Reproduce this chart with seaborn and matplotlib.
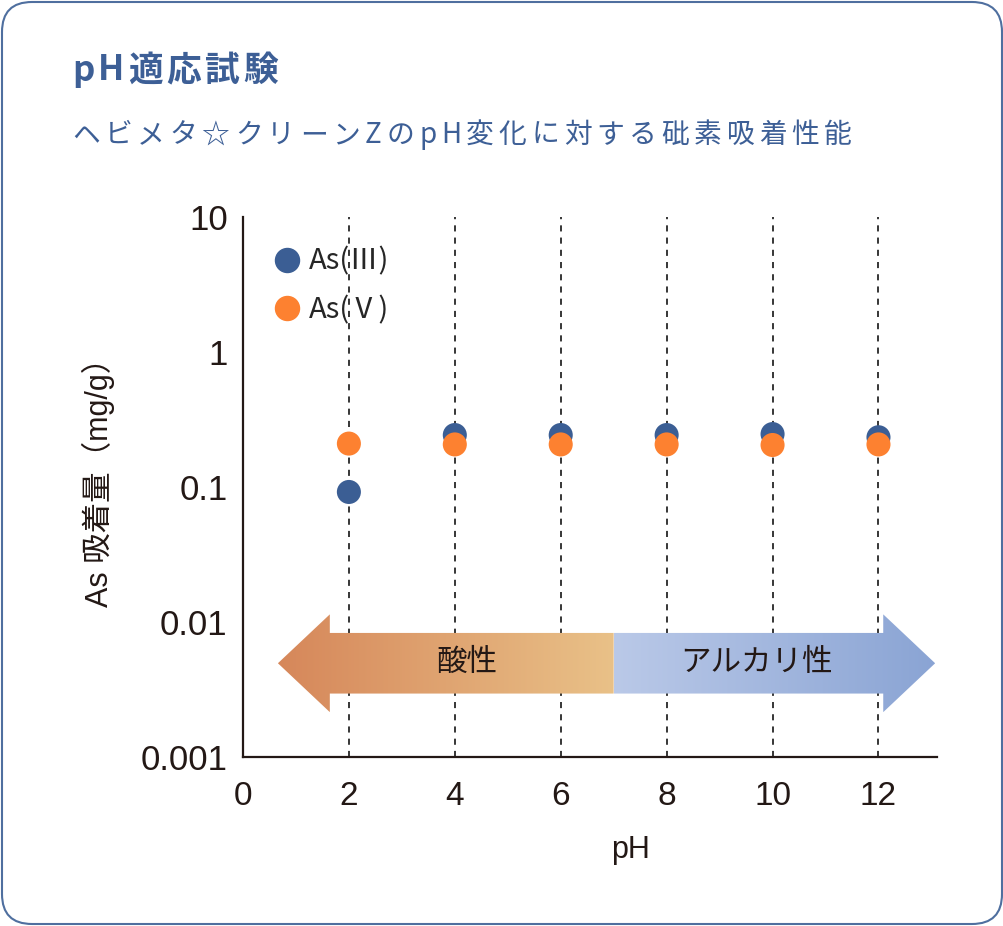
import numpy as np
import pandas as pd
import seaborn as sns
import matplotlib.pyplot as plt
from matplotlib.patches import FancyBboxPatch, Polygon
from matplotlib.lines import Line2D
from matplotlib.colors import LinearSegmentedColormap
from matplotlib.transforms import IdentityTransform
from matplotlib.font_manager import findfont, FontProperties
from matplotlib.ft2font import FT2Font

# data
ph = [2, 4, 6, 8, 10, 12]
as3 = [0.092, 0.243, 0.243, 0.243, 0.247, 0.234]
as5 = [0.210, 0.207, 0.207, 0.207, 0.205, 0.207]
series = ['As(Ⅲ)', 'As(Ⅴ)']
xticks = [0, 2, 4, 6, 8, 10, 12]
yticks = [0.001, 0.01, 0.1, 1, 10]
yticklabels = ['0.001', '0.01', '0.1', '1', '10']
arrow_labels = ['酸性', 'アルカリ性']
title = 'pH適応試験'
subtitle = 'ヘビメタ☆クリーンZのpH変化に対する砒素吸着性能'

blue = '#3b5e94'
orange = '#fd8130'
title_blue = '#3d5f96'
ink = '#231815'
W, H = 1004, 926

sns.set_style('white')
plt.rcParams['font.family'] = ['Liberation Sans', 'Noto Sans CJK JP', 'DejaVu Sans']

df = pd.DataFrame({
    'pH': ph + ph,
    'As': as3 + as5,
    'kind': [series[0]] * len(ph) + [series[1]] * len(ph),
})

fig = plt.figure(figsize=(W / 100, H / 100), dpi=100)
ax = fig.add_axes([0.242, 0.1825, 0.691, 0.583])

for x in ph:
    ax.axvline(x, color='black', lw=1.1, ls=(0, (4, 4)), zorder=1)

sns.scatterplot(data=df, x='pH', y='As', hue='kind', palette=[blue, orange],
                s=300, linewidth=0, legend=False, ax=ax, zorder=3)

ax.set_yscale('log')
ax.set_xlim(0, 13.1)
ax.set_ylim(0.001, 10)
ax.set_xticks(xticks)
ax.set_yticks(yticks)
ax.set_yticklabels(yticklabels)
ax.minorticks_off()
ax.tick_params(axis='x', length=0, pad=17, labelsize=24, colors=ink)
ax.tick_params(axis='y', length=0, pad=11, labelsize=25, colors=ink)
for side in ['top', 'right']:
    ax.spines[side].set_visible(False)
for side in ['left', 'bottom']:
    ax.spines[side].set_color(ink)
    ax.spines[side].set_linewidth(1.6)

ax.set_xlabel('pH', fontsize=22, color=ink)
ax.set_ylabel('As 吸着量（mg/g）', fontsize=22, color=ink)
ax.xaxis.set_label_coords(0.558, -0.144)
ax.yaxis.set_label_coords(-0.185, 0.523)

handles = [Line2D([], [], marker='o', ls='', color=c, markersize=17.3) for c in [blue, orange]]
ax.legend(handles, series, loc='upper left', bbox_to_anchor=(0.043, 0.945),
          frameon=False, handlelength=1.0, handletextpad=0.25,
          borderpad=0, borderaxespad=0, labelspacing=0.62,
          prop=FontProperties(family='Noto Sans CJK JP', size=21))

# acid / alkaline arrow
x0, xm, x1 = 0.66, 7.0, 13.07
head = 0.98
arr = ax.inset_axes([x0, 0.00215, x1 - x0, 0.0114 - 0.00215], transform=ax.transData, zorder=2)
arr.set_xlim(x0, x1)
arr.set_ylim(0, 1)
arr.axis('off')
lo, hi = 0.19, 0.81
left_poly = Polygon([(x0, 0.5), (x0 + head, 1), (x0 + head, hi), (xm, hi), (xm, lo),
                     (x0 + head, lo), (x0 + head, 0)], closed=True, transform=arr.transData)
right_poly = Polygon([(xm, hi), (x1 - head, hi), (x1 - head, 1), (x1, 0.5), (x1 - head, 0),
                      (x1 - head, lo), (xm, lo)], closed=True, transform=arr.transData)
grad = np.linspace(0, 1, 256).reshape(1, -1)
cmap_l = LinearSegmentedColormap.from_list('acid', ['#d6875a', '#e9c188'])
cmap_r = LinearSegmentedColormap.from_list('alk', ['#bac9e8', '#8aa4d4'])
im_l = arr.imshow(grad, cmap=cmap_l, extent=[x0, xm, 0, 1], aspect='auto')
im_l.set_clip_path(left_poly)
im_r = arr.imshow(grad, cmap=cmap_r, extent=[xm, x1, 0, 1], aspect='auto')
im_r.set_clip_path(right_poly)
arr.text(4.23, 0.5, arrow_labels[0], fontsize=22, ha='center', va='center', color=ink)
arr.text(9.7, 0.5, arrow_labels[1], fontsize=22, ha='center', va='center', color=ink)


def spaced_text(s, x_left, x_right, y, size, weight='normal'):
    # place characters one by one so the line spans x_left..x_right (letter-spaced)
    fp = FontProperties(family='Noto Sans CJK JP', weight=weight)
    font = FT2Font(findfont(fp), hinting_factor=1)
    font.set_size(size, 100)
    adv = [font.load_char(ord(c)).linearHoriAdvance / 65536 for c in s]
    track = (x_right - x_left - sum(adv)) / (len(s) - 1)
    x = x_left
    for c, a in zip(s, adv):
        fig.text(x / W, 1 - y / H, c, fontsize=size, fontweight=weight, color=title_blue,
                 va='center', ha='left', family=['Noto Sans CJK JP', 'DejaVu Sans'])
        x += a + track


spaced_text(title, 72, 278, 70, 25, weight='bold')
spaced_text(subtitle, 72, 852, 135, 20)

border = FancyBboxPatch((2, 2), 1000, 922, boxstyle='round,pad=0,rounding_size=30',
                        transform=IdentityTransform(), fill=False, edgecolor='#4f6f9f', lw=1.5)
fig.add_artist(border)

fig.savefig('out.png', dpi=100)
